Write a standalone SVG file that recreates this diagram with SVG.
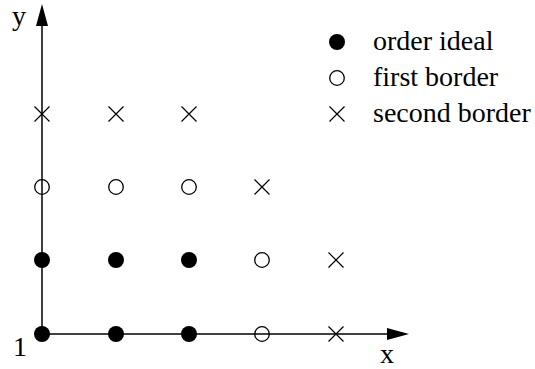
<svg xmlns="http://www.w3.org/2000/svg" width="535" height="369" viewBox="0 0 535 369">
<style>
.ax{stroke:#000;stroke-width:1.5;fill:none}
.dot{fill:#000}
.oc{fill:none;stroke:#000;stroke-width:1.3}
.cr{stroke:#000;stroke-width:1.2;fill:none}
text{font-family:"Liberation Serif","Times New Roman",serif;font-size:28px;fill:#000}
</style>
<defs>
<circle id="d" r="8" class="dot"/>
<circle id="o" r="7.3" class="oc"/>
<path id="x" d="M-7.5,-7.5L7.5,7.5M-7.5,7.5L7.5,-7.5" class="cr"/>
</defs>
<g id="connectors">
<line class="ax" x1="42" y1="334" x2="42" y2="24"/>
<polygon points="42,4 36,26 48,26" fill="#000"/>
<line class="ax" x1="42" y1="334" x2="390" y2="334"/>
<polygon points="409,334 387,328 387,340" fill="#000"/>
</g>
<g id="labels">
<text x="12" y="25">y</text>
<text x="13" y="356">1</text>
<text x="380" y="363">x</text>
</g>
<g id="points">
<use href="#d" x="42" y="334"/><use href="#d" x="116" y="334"/><use href="#d" x="189" y="334"/>
<use href="#o" x="262" y="334"/><use href="#x" x="336" y="334"/>
<use href="#d" x="42" y="260"/><use href="#d" x="116" y="260"/><use href="#d" x="189" y="260"/>
<use href="#o" x="262" y="260"/><use href="#x" x="336" y="260"/>
<use href="#o" x="42" y="187"/><use href="#o" x="116" y="187"/><use href="#o" x="189" y="187"/>
<use href="#x" x="262" y="187"/>
<use href="#x" x="42" y="114"/><use href="#x" x="116" y="114"/><use href="#x" x="189" y="114"/>
</g>
<g id="legend">
<use href="#d" x="337" y="42"/>
<text x="373" y="50">order ideal</text>
<use href="#o" x="337" y="78"/>
<text x="373" y="86">first border</text>
<use href="#x" x="337" y="114"/>
<text x="373" y="122">second border</text>
</g>
</svg>
